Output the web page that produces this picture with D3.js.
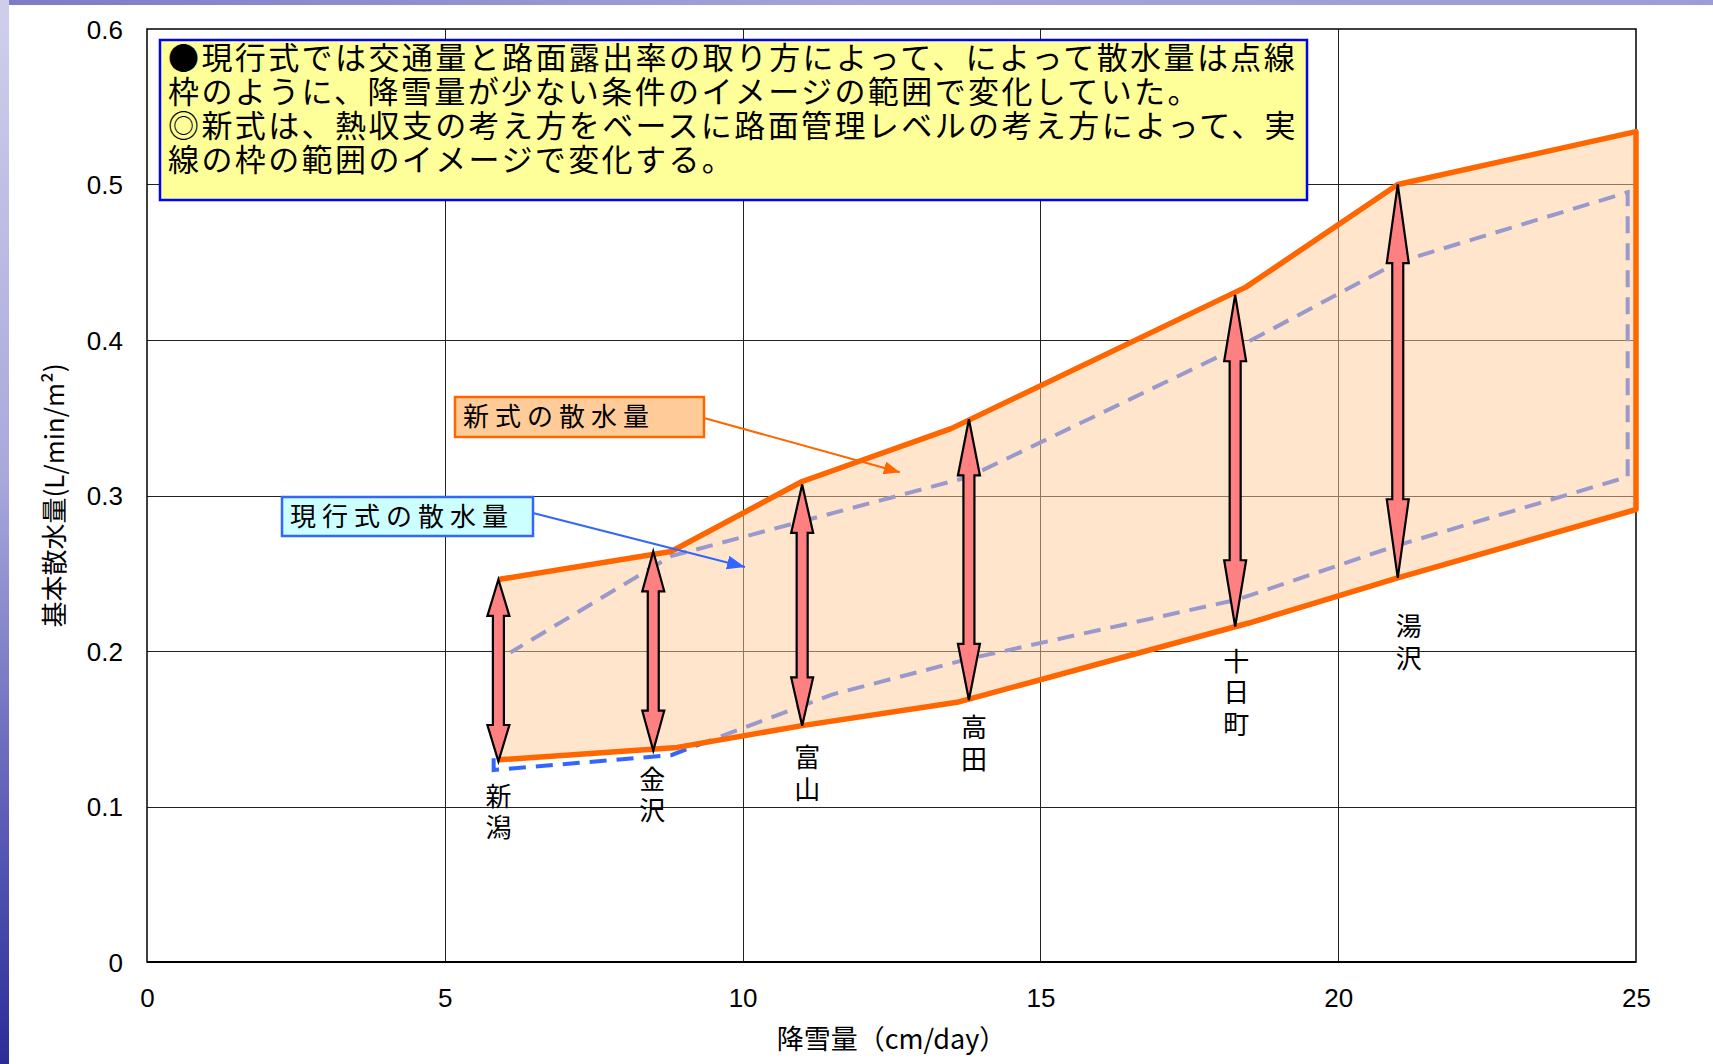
<!DOCTYPE html>
<html lang="ja">
<head>
<meta charset="utf-8">
<script src="https://cdn.jsdelivr.net/npm/d3@7"></script>
<style>
  html, body { margin: 0; padding: 0; background: #fff; }
  svg { display: block; }
</style>
</head>
<body>
<svg id="chart" width="1713" height="1064"></svg>
<script>
// ---- data ----
const xTicks = [0, 5, 10, 15, 20, 25];
const yTicks = [0, 0.1, 0.2, 0.3, 0.4, 0.5, 0.6];

// new formula: upper and lower bounds of the sprinkling amount (L/min/m2) vs snowfall (cm/day)
const newUpper = [[5.9, 0.246], [8.8, 0.264], [11.0, 0.309], [13.5, 0.343], [18.45, 0.434], [21.0, 0.5], [25.0, 0.534]];
const newLower = [[5.9, 0.130], [8.9, 0.138], [11.0, 0.152], [13.6, 0.167], [18.5, 0.218], [21.0, 0.247], [25.0, 0.291]];

// current formula: outline of its range (open on the left side)
const currentRange = [[5.82, 0.131], [5.82, 0.1235], [8.8, 0.133], [11.5, 0.172], [13.8, 0.195], [18.3, 0.233], [21.0, 0.268],
                      [24.86, 0.312], [24.86, 0.495], [21.0, 0.45], [18.3, 0.395], [13.8, 0.312], [8.8, 0.261], [6.1, 0.199]];

// observation sites and their ranges under the new formula
const sites     = ["新潟", "金沢", "富山", "高田", "十日町", "湯沢"];
const siteSnow  = [5.9, 8.5, 11.0, 13.8, 18.27, 21.0];
const siteHigh  = [0.246, 0.264, 0.307, 0.349, 0.429, 0.5];
const siteLow   = [0.129, 0.136, 0.152, 0.1685, 0.2157, 0.247];

const noteLines = [
  "●現行式では交通量と路面露出率の取り方によって、によって散水量は点線",
  "枠のように、降雪量が少ない条件のイメージの範囲で変化していた。",
  "◎新式は、熱収支の考え方をベースに路面管理レベルの考え方によって、実",
  "線の枠の範囲のイメージで変化する。"
];
const newLabel = "新式の散水量";
const newTarget = [12.64, 0.315];
const curLabel = "現行式の散水量";
const curTarget = [10.04, 0.254];

const xTitle = "降雪量（cm/day）";
const yTitle = "基本散水量(L/min/m²)";

// ---- layout ----
const W = 1713, H = 1064;
const plot = { left: 147, right: 1636, top: 29, bottom: 962 };
const labelDx = [0, -1, 5, 5, 1, 11];
const labelDy = [35, 29, 32, 28, 35, 49];
const JP = "'Noto Sans CJK JP', 'Noto Sans', sans-serif";
const NUM = "'Liberation Sans', Arial, sans-serif";

const svg = d3.select("#chart");
const defs = svg.append("defs");

// slide template edges
const gTop = defs.append("linearGradient").attr("id", "topBand").attr("x1", 0).attr("x2", 1).attr("y1", 0).attr("y2", 0);
gTop.append("stop").attr("offset", 0).attr("stop-color", "#7c7cc6");
gTop.append("stop").attr("offset", 0.5).attr("stop-color", "#a4a4da");
gTop.append("stop").attr("offset", 1).attr("stop-color", "#9c9cd6");
const gLeft = defs.append("linearGradient").attr("id", "leftBand").attr("x1", 0).attr("x2", 0).attr("y1", 0).attr("y2", 1);
gLeft.append("stop").attr("offset", 0).attr("stop-color", "#cfcfec");
gLeft.append("stop").attr("offset", 0.45).attr("stop-color", "#a8a8dc");
gLeft.append("stop").attr("offset", 0.8).attr("stop-color", "#5656b4");
gLeft.append("stop").attr("offset", 1).attr("stop-color", "#2c2c98");

svg.append("rect").attr("width", W).attr("height", H).attr("fill", "#fff");
svg.append("rect").attr("x", 0).attr("y", 0).attr("width", W).attr("height", 5).attr("fill", "url(#topBand)");
svg.append("rect").attr("x", 0).attr("y", 0).attr("width", 9).attr("height", H).attr("fill", "url(#leftBand)");

// arrowhead markers for leader lines
function marker(id, color, len, wid) {
  defs.append("marker").attr("id", id)
    .attr("viewBox", `0 0 ${len} ${wid}`).attr("refX", len).attr("refY", wid / 2)
    .attr("markerWidth", len).attr("markerHeight", wid).attr("markerUnits", "userSpaceOnUse")
    .attr("orient", "auto")
    .append("path").attr("d", `M0,0L${len},${wid / 2}L0,${wid}Z`).attr("fill", color);
}
marker("headOrange", "#ff6600", 16, 13);
marker("headBlue", "#3366ff", 18, 14);

const x = d3.scaleLinear().domain([0, 25]).range([plot.left, plot.right]);
const y = d3.scaleLinear().domain([0, 0.6]).range([plot.bottom, plot.top]);

// gridlines
const grid = svg.append("g");
grid.selectAll("line.v").data(xTicks.slice(1, -1)).join("line")
  .attr("x1", d => Math.round(x(d)) + 0.5).attr("x2", d => Math.round(x(d)) + 0.5)
  .attr("y1", plot.top).attr("y2", plot.bottom)
  .attr("stroke", "#222").attr("stroke-width", 1);
grid.selectAll("line.h").data(yTicks.slice(1, -1)).join("line")
  .attr("y1", d => Math.round(y(d)) + 0.5).attr("y2", d => Math.round(y(d)) + 0.5)
  .attr("x1", plot.left).attr("x2", plot.right)
  .attr("stroke", "#222").attr("stroke-width", 1);

// axes (labels only; the frame is drawn below)
const xAxis = d3.axisBottom(x).tickValues(xTicks).tickSize(0).tickPadding(27).tickFormat(d3.format("d"));
const yAxis = d3.axisLeft(y).tickValues(yTicks).tickSize(0).tickPadding(24).tickFormat(d => d === 0 ? "0" : d3.format(".1f")(d));
const gx = svg.append("g").attr("transform", `translate(0,${plot.bottom})`).call(xAxis);
const gy = svg.append("g").attr("transform", `translate(${plot.left},0)`).call(yAxis);
[gx, gy].forEach(g => {
  g.select(".domain").remove();
  g.selectAll("text").attr("font-family", NUM).attr("font-size", 26).attr("fill", "#000");
});
gx.selectAll("text").attr("dy", "0.71em");
gy.selectAll("text").attr("dy", "0.35em");

// plot frame
svg.append("rect").attr("x", plot.left).attr("y", plot.top)
  .attr("width", plot.right - plot.left).attr("height", plot.bottom - plot.top)
  .attr("fill", "none").attr("stroke", "#000").attr("stroke-width", 1.5);
svg.append("line").attr("x1", plot.left).attr("x2", plot.right).attr("y1", plot.bottom).attr("y2", plot.bottom)
  .attr("stroke", "#000").attr("stroke-width", 2.2);

const line = d3.line().x(d => x(d[0])).y(d => y(d[1]));

// current formula range (dashed), partly seen through the translucent fill
svg.append("path").attr("d", line(currentRange))
  .attr("fill", "none").attr("stroke", "#3366ff").attr("stroke-width", 4)
  .attr("stroke-dasharray", "17,10");

// new formula range: fill then outline
const band = newUpper.concat(newLower.slice().reverse());
svg.append("path").attr("d", line(band) + "Z")
  .attr("fill", "#ffcc99").attr("fill-opacity", 0.5);
svg.append("path").attr("d", line(band))
  .attr("fill", "none").attr("stroke", "#ff6600").attr("stroke-width", 5.5).attr("stroke-linejoin", "round");

// leader callouts
function callout(label, box, target, fill, stroke, headId, lw) {
  const g = svg.append("g");
  g.append("line").attr("x1", box.x + box.w).attr("y1", box.ly)
    .attr("x2", x(target[0])).attr("y2", y(target[1]))
    .attr("stroke", stroke).attr("stroke-width", lw).attr("marker-end", `url(#${headId})`);
  g.append("rect").attr("x", box.x).attr("y", box.y).attr("width", box.w).attr("height", box.h)
    .attr("fill", fill).attr("stroke", stroke).attr("stroke-width", 2.5);
  g.append("text").attr("x", box.x + 8).attr("y", box.y + box.h / 2).attr("dy", "0.35em")
    .attr("font-family", JP).attr("font-size", 26).attr("letter-spacing", 6).attr("fill", "#000")
    .text(label);
}
callout(newLabel, { x: 455, y: 397, w: 249, h: 40, ly: 418 }, newTarget, "#ffcc99", "#ff6600", "headOrange", 2);
callout(curLabel, { x: 282, y: 497, w: 251, h: 39, ly: 513 }, curTarget, "#ccffff", "#3366ff", "headBlue", 2.2);

// double-headed arrows for each site
const arrows = svg.append("g");
sites.forEach((name, i) => {
  const cx = x(siteSnow[i]);
  const yt = y(siteHigh[i]), yb = y(siteLow[i]);
  const L = yb - yt, hl = 0.2 * L, hw = 11, sw = 5.5;
  const p = [
    [cx, yt], [cx + hw, yt + hl], [cx + sw, yt + hl], [cx + sw, yb - hl], [cx + hw, yb - hl],
    [cx, yb], [cx - hw, yb - hl], [cx - sw, yb - hl], [cx - sw, yt + hl], [cx - hw, yt + hl]
  ];
  arrows.append("path").attr("d", "M" + p.map(q => q.join(",")).join("L") + "Z")
    .attr("fill", "#ff8080").attr("stroke", "#000").attr("stroke-width", 2.2).attr("stroke-linejoin", "miter");

  const t = arrows.append("text").attr("font-family", JP).attr("font-size", 26).attr("fill", "#000")
    .attr("text-anchor", "middle");
  Array.from(name).forEach((ch, k) => {
    t.append("tspan").attr("x", cx + labelDx[i]).attr("y", yb + labelDy[i] + k * 31.5).attr("dy", "0.36em").text(ch);
  });
});

// explanatory note: one text block with a tspan per line
const note = svg.append("g");
note.append("rect").attr("x", 160).attr("y", 40).attr("width", 1147).attr("height", 160)
  .attr("fill", "#ffff99").attr("stroke", "#0000ff").attr("stroke-width", 2.5);
note.append("text")
  .attr("font-family", JP).attr("font-size", 31).attr("letter-spacing", 2.4).attr("fill", "#000")
  .selectAll("tspan").data(noteLines).join("tspan")
  .attr("x", 168).attr("y", (d, i) => 58 + i * 34).attr("dy", "0.36em")
  .text(d => d);

// axis titles
svg.append("text").attr("x", (plot.left + plot.right) / 2).attr("y", 1039).attr("dy", "0.36em")
  .attr("text-anchor", "middle").attr("font-family", JP).attr("font-size", 27).attr("fill", "#000")
  .text(xTitle);
svg.append("text").attr("transform", `translate(55,${(plot.top + plot.bottom) / 2}) rotate(-90)`)
  .attr("dy", "0.36em").attr("text-anchor", "middle").attr("font-family", JP).attr("font-size", 26).attr("fill", "#000")
  .text(yTitle);
</script>
</body>
</html>
